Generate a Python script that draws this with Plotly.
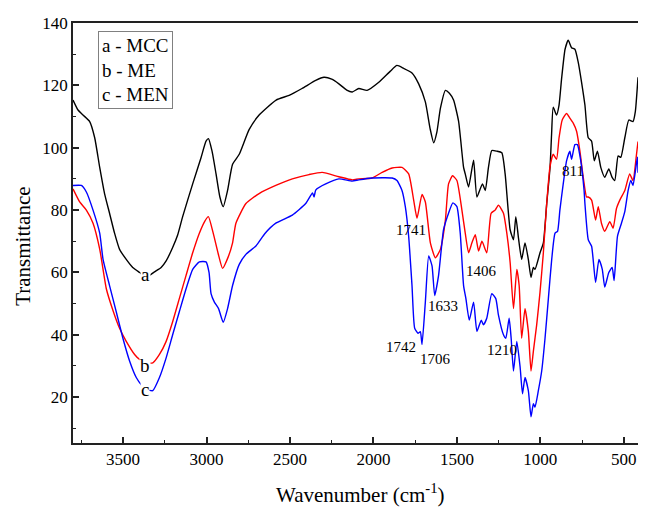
import plotly.graph_objects as go

# ---- data ----
wn_a = [3800,3770,3740,3700,3670,3640,3611,3581,3551,3521,3481,3442,3401,3360,3312,3272,3242,3203,3173,3143,3083,3033,3003,2988,2967,2943,2920,2900,2874,2844,2804,2745,2685,2583,2505,2428,2346,2296,2250,2207,2160,2127,2088,2038,1968,1900,1859,1820,1769,1729,1689,1660,1639,1620,1599,1569,1545,1520,1490,1460,1450,1430,1400,1380,1347,1330,1311,1291,1261,1231,1211,1181,1161,1147,1131,1112,1092,1072,1056,1042,1032,1002,982,962,942,933,923,903,888,873,852,833,813,793,773,753,733,713,693,677,658,638,614,590,570,554,534,518,494,470,445,431,415]
t_a = [115.3,112.1,110.5,108.4,103.2,93.7,85.3,79,72.6,67.4,64.2,61.6,60,58.5,60.2,61.6,63.7,68,72,77.9,88.4,96.8,102.1,102.9,98.9,91.6,84.2,81.1,86.3,94.7,97.9,105.8,110.5,115.3,116.8,119,121.6,122.6,122,120.5,118.5,117.9,119,118.4,121,124.5,126.4,125.5,124,120.5,114.7,106,101.6,105,112.6,118.4,117.5,115.3,108.5,93.7,91.6,87.4,96,84.2,88.4,86.3,93.7,99.1,98.9,98.4,91.6,73.7,70.5,77.9,71,64.2,69.5,64.2,58.4,61.6,61,66.3,69.5,82,93.7,104,113,110.5,113.7,122,131.6,134.5,132.1,131.6,127.4,121,113.7,103.2,102.1,95.8,98.9,93.7,90.5,93.2,90.5,89.5,97.4,96.9,103.2,108.9,108.4,111.6,122.6]

wn_b = [3800,3760,3720,3680,3640,3600,3561,3521,3481,3431,3401,3360,3322,3282,3242,3203,3163,3123,3083,3043,3010,2989,2960,2930,2904,2870,2844,2824,2764,2685,2585,2486,2386,2307,2207,2127,2088,2008,1948,1888,1829,1789,1759,1739,1709,1689,1659,1629,1599,1569,1550,1526,1500,1470,1450,1430,1410,1390,1370,1350,1321,1295,1271,1251,1221,1201,1181,1161,1141,1127,1112,1092,1072,1056,1042,1022,1002,982,962,942,923,903,888,869,843,823,803,783,763,743,723,713,693,669,653,634,614,584,564,544,524,494,465,445,425,415]
t_b = [86.8,82.6,80,75.8,67.5,54.7,47.9,42.1,37.9,33.7,32.1,31,31,33.7,37.9,44.2,51.6,59,66.3,72.6,76.5,77.9,72.6,66,61.3,65,69.5,75.8,82.1,85.3,87.9,90,91.4,92.1,90.7,89.7,90,90.3,92.1,93.5,93.7,91.6,83.2,77.4,85,82.6,69.5,64.7,67.4,76.8,88.4,91,89.5,80,72.6,66.3,69.5,72.1,66.9,70,66.3,79,80,81.6,79,72.6,63.2,48.4,61,55.8,38.9,48.4,41.1,28.4,34.7,43.2,53.7,66.3,82.1,94,97.9,96.3,103.2,108.9,111,109.5,107.9,105.3,98.9,90.5,84.2,84.2,83.2,76.8,81.1,75.8,73.2,76.3,74.2,80.5,83.2,86.3,91.6,89.5,97.4,102]

wn_c = [3800,3750,3720,3680,3640,3620,3581,3541,3501,3461,3421,3391,3360,3322,3282,3242,3203,3163,3123,3083,3043,3003,2985,2973,2953,2928,2900,2874,2844,2804,2764,2704,2650,2585,2486,2406,2365,2356,2345,2286,2207,2127,2088,2008,1888,1859,1829,1809,1789,1769,1753,1733,1719,1709,1689,1669,1649,1633,1610,1580,1550,1524,1500,1480,1460,1446,1426,1400,1380,1354,1341,1321,1291,1267,1251,1221,1207,1187,1175,1161,1141,1121,1107,1092,1072,1056,1042,1032,1012,992,972,952,932,912,897,883,863,843,823,813,793,778,758,738,733,713,693,669,649,629,614,590,570,558,538,514,494,474,458,445,425,418,415]
t_c = [87.9,87.9,85.8,80,72.6,64.2,55.8,47.4,38.9,31.6,26.3,24,22.5,22.1,26.3,32.6,40,47.4,54.7,61,63.4,63.4,60,53.2,50.5,48.4,44,48.4,55.8,62.6,65.8,68.5,72.5,75.8,78.4,82.1,85.5,84.2,86.5,88.4,90,89.3,89.7,90.3,90.3,89.5,86.3,81.1,71.6,55.8,42.1,40.5,41,36.9,50.5,65.3,62.1,52.6,59,73.7,79,82.3,81.1,72.6,55.8,51.6,44.7,50.5,41.1,44.7,43.2,45.3,53.2,51.6,46.3,40,38.9,45.3,38.9,28.4,37.9,29.5,21.1,26.3,22.1,13.7,17.9,16.8,22.1,28.4,38.9,51.6,64.2,72.6,73.2,80,88.4,95.8,98.9,96.3,101,101,95.8,86.3,82.1,70.5,68.4,56.8,64.2,61,55.3,60,61.6,57.4,71.6,75.8,79.5,86.3,89.5,87.9,94.7,97,92]

series_names = ["a - MCC", "b - ME", "c - MEN"]
series_colors = ["#000000", "#ff0000", "#0000ff"]

peak_labels = ["1741", "1633", "1406", "1742", "1706", "1210", "811"]
peak_x = [1773, 1584, 1351, 1832, 1629, 1231, 803]
peak_y = [73.7, 49.3, 60.5, 36.0, 32.3, 35.0, 92.6]

curve_letters = ["a", "b", "c"]
letter_x = [3366, 3366, 3366]
letter_y = [59.5, 30.0, 22.6]

x_ticks = [3500, 3000, 2500, 2000, 1500, 1000, 500]
y_ticks = [20, 40, 60, 80, 100, 120, 140]

FONT = "Liberation Serif, Times New Roman, serif"

fig = go.Figure()
for wn, t, name, col in zip([wn_a, wn_b, wn_c], [t_a, t_b, t_c], series_names, series_colors):
    fig.add_trace(go.Scatter(x=wn, y=t, mode="lines", name=name,
                             line=dict(color=col, width=1.4, shape="spline", smoothing=0.5),
                             showlegend=False))

for txt, x, y in zip(curve_letters, letter_x, letter_y):
    fig.add_annotation(x=x, y=y, text=txt, showarrow=False, xref="x", yref="y",
                       font=dict(family=FONT, size=19, color="black"),
                       bgcolor="white", borderpad=0)

for txt, x, y in zip(peak_labels, peak_x, peak_y):
    fig.add_annotation(x=x, y=y, text=txt, showarrow=False, xref="x", yref="y",
                       font=dict(family=FONT, size=15, color="black"))

# legend-like text box
fig.add_annotation(x=0.044, y=0.98, xref="paper", yref="paper", xanchor="left", yanchor="top",
                   text="<br>".join(series_names), align="left", showarrow=False,
                   font=dict(family=FONT, size=19, color="black"),
                   bordercolor="#808080", borderwidth=1, borderpad=3, bgcolor="white")

# axis titles
fig.add_annotation(x=0.509, y=-0.121, xref="paper", yref="paper", xanchor="center", yanchor="middle",
                   text="Wavenumber (cm<sup>-1</sup>)", showarrow=False,
                   font=dict(family=FONT, size=21, color="black"))
fig.add_annotation(x=-0.0888, y=0.469, xref="paper", yref="paper", xanchor="center", yanchor="middle",
                   text="Transmittance", textangle=-90, showarrow=False,
                   font=dict(family=FONT, size=21, color="black"))

# page body has an 8px default margin, so the figure is offset accordingly
fig.update_layout(
    width=638, height=507,
    margin=dict(l=65, r=6, t=8, b=72),
    paper_bgcolor="white", plot_bgcolor="white",
    font=dict(family=FONT, size=17, color="black"),
)
fig.update_xaxes(range=[3800, 415], tickvals=x_ticks, ticks="inside", ticklen=6, tickwidth=1.5,
                 tickcolor="#222", showline=True, linecolor="#222", linewidth=1.6, mirror=True,
                 showgrid=False, zeroline=False, ticklabeloverflow="allow",
                 minor=dict(dtick=250, tick0=0, ticks="inside", ticklen=3, tickwidth=1.2, tickcolor="#222"),
                 tickfont=dict(family=FONT, size=17, color="black"))
fig.update_yaxes(range=[5.3, 140.01], tickvals=y_ticks, ticks="inside", ticklen=6, tickwidth=1.5,
                 tickcolor="#222", showline=True, linecolor="#222", linewidth=1.6, mirror=True,
                 showgrid=False, zeroline=False, ticklabeloverflow="allow",
                 minor=dict(dtick=10, tick0=0, ticks="inside", ticklen=3, tickwidth=1.2, tickcolor="#222"),
                 tickfont=dict(family=FONT, size=17, color="black"))

fig.write_html("out.html")
